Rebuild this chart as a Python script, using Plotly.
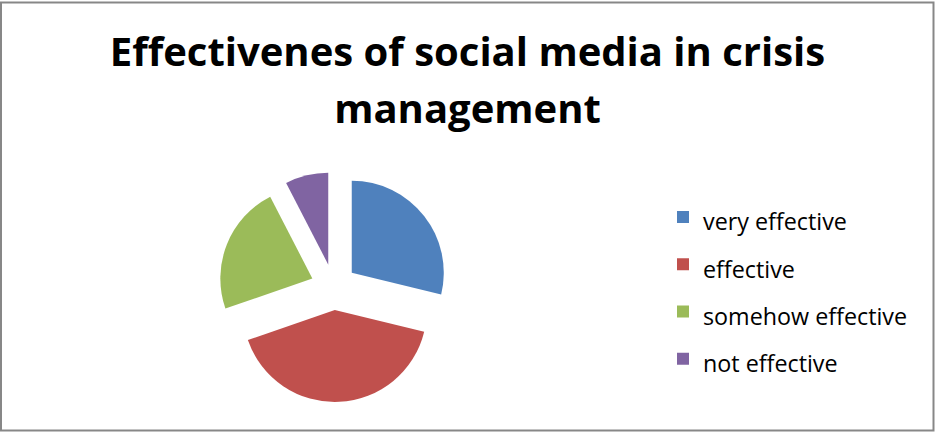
import plotly.graph_objects as go

# Survey responses on how effective social media is in crisis management
categories = ["very effective", "effective", "somehow effective", "not effective"]
responses = [19, 27, 15, 5]
slice_colors = ["#4F81BD", "#C0504D", "#9BBB59", "#8064A2"]

W, H = 935, 432
FONT = "'Open Sans', Lato, sans-serif"

# legend entries use a smaller inline size so the rows can stay widely spaced
legend_labels = [f"<span style='font-size:23.3px'>{c}</span>" for c in categories]

title_text = (
    "<span style='font-size:40px'><b>Effectivenes of social media in crisis"
    "<br>management</b></span>"
)

fig = go.Figure(
    go.Pie(
        labels=legend_labels,
        values=responses,
        sort=False,
        direction="clockwise",
        rotation=0,
        pull=[0.25] * len(responses),
        marker=dict(colors=slice_colors, line=dict(width=0)),
        textinfo="none",
        hoverinfo="skip",
        domain=dict(x=[218.7 / W, 448.7 / W], y=[1 - 402 / H, 1 - 172 / H]),
    )
)

fig.update_layout(
    width=W,
    height=H,
    margin=dict(l=0, r=0, t=0, b=0),
    paper_bgcolor="white",
    plot_bgcolor="white",
    font=dict(family=FONT, color="black"),
    title=dict(
        text=title_text,
        font=dict(size=43.5, family=FONT, color="black"),
        x=0.5,
        xanchor="center",
        xref="paper",
        y=1 - 66 / H,
        yanchor="top",
        yref="container",
    ),
    legend=dict(
        x=663 / W,
        xanchor="left",
        y=1 - 188.5 / H,
        yanchor="top",
        font=dict(size=34, family=FONT, color="black"),
        bgcolor="rgba(0,0,0,0)",
        borderwidth=0,
    ),
    shapes=[
        dict(
            type="rect",
            xref="paper",
            yref="paper",
            x0=1 / W,
            x1=1 - 1.5 / W,
            y0=1.5 / H,
            y1=1 - 2.5 / H,
            line=dict(color="#878787", width=2),
            fillcolor="rgba(0,0,0,0)",
            layer="above",
        )
    ],
)

fig.write_html("out.html")
